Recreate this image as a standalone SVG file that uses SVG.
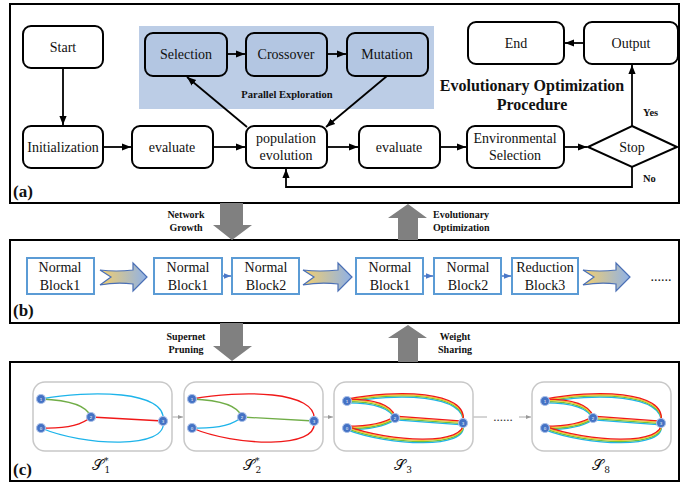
<svg xmlns="http://www.w3.org/2000/svg" xmlns:xlink="http://www.w3.org/1999/xlink" width="680" height="483" viewBox="0 0 680 483">
<defs>
<style>
.panel{fill:none;stroke:#000;stroke-width:2}
.nd{fill:#fff;stroke:#000;stroke-width:2}
.nb{fill:#b3c6e2;stroke:#000;stroke-width:2}
.t{font-family:"Liberation Serif","Times New Roman",serif;font-size:14px;fill:#111;text-anchor:middle}
.b{font-family:"Liberation Serif","Times New Roman",serif;font-weight:bold;fill:#111}
.ln{fill:none;stroke:#000;stroke-width:1.8}
.blk{fill:#fff;stroke:#5b9bd5;stroke-width:2}
.bl{fill:none;stroke:#4a78c8;stroke-width:1.5}
.ga{fill:#808080}
.fa{fill:url(#grad);stroke:#4a6fb5;stroke-width:1.2}
.cell{fill:#fff;stroke:#c8c8c8;stroke-width:1.5}
.gl{fill:none;stroke:#aaa;stroke-width:1}
.e{fill:none;stroke-width:1.3}
.n{fill:#4472c4;stroke:#a9bfe8;stroke-width:1.2}
.nt{font-family:"DejaVu Sans",sans-serif;font-size:4px;fill:#fff;text-anchor:middle}
.sl{font-family:"DejaVu Serif","Liberation Serif",serif;font-size:15px;fill:#111;text-anchor:middle}
</style>
<marker id="ah" viewBox="0 0 10 10" refX="10" refY="5" markerWidth="9" markerHeight="9" markerUnits="userSpaceOnUse" orient="auto"><path d="M0,1 L10,5 L0,9 z" fill="#000"/></marker>
<marker id="bh" viewBox="0 0 10 10" refX="10" refY="5" markerWidth="7" markerHeight="7" markerUnits="userSpaceOnUse" orient="auto"><path d="M0,1 L10,5 L0,9 z" fill="#4a78c8"/></marker>
<marker id="gh" viewBox="0 0 10 10" refX="10" refY="5" markerWidth="5" markerHeight="5" markerUnits="userSpaceOnUse" orient="auto"><path d="M0,1 L10,5 L0,9 z" fill="#999"/></marker>
<linearGradient id="grad" x1="0" y1="0" x2="1" y2="0"><stop offset="0" stop-color="#f3cf6e"/><stop offset="1" stop-color="#8fb1e6"/></linearGradient>
<g id="bundle">
<path d="M13,19 C60,9 135,10 129,41"/>
<path d="M13,19 C40,19 57,24 61,36"/>
<path d="M13,46 C38,46 52,42 61,36"/>
<path d="M61,36 L129,41"/>
<path d="M13,46 C55,62 135,66 129,41"/>
</g>
<g id="nodes3">
<circle class="n" cx="13" cy="19" r="4.5"/><text class="nt" x="13" y="20.5">1</text>
<circle class="n" cx="13" cy="46" r="4.5"/><text class="nt" x="13" y="47.5">0</text>
<circle class="n" cx="61" cy="36" r="4.5"/><text class="nt" x="61" y="37.5">2</text>
<circle class="n" cx="129" cy="41" r="4.5"/><text class="nt" x="129" y="42.5">3</text>
</g>
</defs>

<!-- Panels -->
<rect class="panel" x="10" y="4" width="669" height="199"/>
<rect class="panel" x="10" y="240" width="669" height="83"/>
<rect class="panel" x="10" y="362" width="669" height="119"/>
<text class="b" x="13" y="197" font-size="17">(a)</text>
<text class="b" x="13" y="316" font-size="17">(b)</text>
<text class="b" x="13" y="475" font-size="17">(c)</text>

<!-- Panel a -->
<rect x="139" y="26" width="295" height="83" fill="#bccde6"/>
<text class="b" x="287" y="98" font-size="10.5" text-anchor="middle">Parallel Exploration</text>
<text class="b" x="532" y="91" font-size="16" text-anchor="middle">Evolutionary Optimization</text>
<text class="b" x="532" y="110" font-size="16" text-anchor="middle">Procedure</text>

<g id="connectors">
<path class="ln" d="M63,68 V125" marker-end="url(#ah)"/>
<path class="ln" d="M103,147 H131" marker-end="url(#ah)"/>
<path class="ln" d="M213,147 H245" marker-end="url(#ah)"/>
<path class="ln" d="M327,147 H358" marker-end="url(#ah)"/>
<path class="ln" d="M440,147 H466" marker-end="url(#ah)"/>
<path class="ln" d="M564,147 H587" marker-end="url(#ah)"/>
<path class="ln" d="M632,126 V65" marker-end="url(#ah)"/>
<path class="ln" d="M584,43 H565" marker-end="url(#ah)"/>
<path class="ln" d="M632,167 V187 H286 V169" marker-end="url(#ah)"/>
<path class="ln" d="M227,54 H245" marker-end="url(#ah)"/>
<path class="ln" d="M327,54 H346" marker-end="url(#ah)"/>
<path class="ln" d="M247,127 L187,77" marker-end="url(#ah)"/>
<path class="ln" d="M387,76 L326,127" marker-end="url(#ah)"/>
<path class="bl" d="M222,276 H231" marker-end="url(#bh)"/>
<path class="bl" d="M423,276 H433" marker-end="url(#bh)"/>
<path class="bl" d="M501,276 H511" marker-end="url(#bh)"/>
<path class="gl" d="M172,417 H183" marker-end="url(#gh)"/>
<path class="gl" d="M323,417 H333" marker-end="url(#gh)"/>
<path class="gl" d="M473,417 H487"/>
<path class="gl" d="M519,417 H531" marker-end="url(#gh)"/>
</g>
<text class="b" x="643" y="116" font-size="10.5">Yes</text>
<text class="b" x="643" y="182" font-size="10.5">No</text>

<g id="start"><rect class="nd" x="23" y="26" width="80" height="42" rx="8"/><text class="t" x="63" y="52">Start</text></g>
<g id="init"><rect class="nd" x="23" y="126" width="80" height="42" rx="8"/><text class="t" x="63" y="152">Initialization</text></g>
<g id="eval1"><rect class="nd" x="132" y="126" width="81" height="42" rx="8"/><text class="t" x="172" y="152">evaluate</text></g>
<g id="popevo"><rect class="nd" x="246" y="126" width="81" height="42" rx="8"/><text class="t" x="286" y="143">population</text><text class="t" x="286" y="160">evolution</text></g>
<g id="eval2"><rect class="nd" x="359" y="126" width="81" height="42" rx="8"/><text class="t" x="399" y="152">evaluate</text></g>
<g id="envsel"><rect class="nd" x="467" y="126" width="97" height="42" rx="8"/><text class="t" x="515" y="143">Environmental</text><text class="t" x="515" y="160">Selection</text></g>
<g id="stop"><path class="nd" d="M632,126 L677,147 L632,167 L588,147 Z"/><text class="t" x="632" y="152">Stop</text></g>
<g id="output"><rect class="nd" x="584" y="22" width="94" height="42" rx="8"/><text class="t" x="631" y="48">Output</text></g>
<g id="end"><rect class="nd" x="468" y="22" width="96" height="42" rx="8"/><text class="t" x="516" y="48">End</text></g>
<g id="selection"><rect class="nb" x="145" y="33" width="82" height="43" rx="8"/><text class="t" x="186" y="59">Selection</text></g>
<g id="crossover"><rect class="nb" x="246" y="33" width="81" height="43" rx="8"/><text class="t" x="286" y="59">Crossover</text></g>
<g id="mutation"><rect class="nb" x="347" y="33" width="81" height="43" rx="8"/><text class="t" x="387" y="59">Mutation</text></g>

<!-- Between-panel arrows -->
<g id="growth"><path class="ga" d="M220,203 H243 V225 H252 L232,240 L213,225 H220 Z"/>
<text class="b" x="186" y="218" font-size="10" text-anchor="middle">Network</text><text class="b" x="186" y="231" font-size="10" text-anchor="middle">Growth</text></g>
<g id="evoopt"><path class="ga" d="M398,240 V218 H388 L408,204 L427,218 H418 V240 Z"/>
<text class="b" x="433" y="218" font-size="10">Evolutionary</text><text class="b" x="433" y="231" font-size="10">Optimization</text></g>
<g id="pruning"><path class="ga" d="M220,323 H243 V346 H252 L232,361 L213,346 H220 Z"/>
<text class="b" x="186" y="340" font-size="10" text-anchor="middle">Supernet</text><text class="b" x="186" y="353" font-size="10" text-anchor="middle">Pruning</text></g>
<g id="sharing"><path class="ga" d="M398,362 V338 H388 L408,325 L427,338 H418 V362 Z"/>
<text class="b" x="455" y="340" font-size="10" text-anchor="middle">Weight</text><text class="b" x="455" y="353" font-size="10" text-anchor="middle">Sharing</text></g>

<!-- Panel b -->
<g id="b1"><rect class="blk" x="27" y="258" width="67" height="36"/><text class="t" x="60" y="272">Normal</text><text class="t" x="60" y="290">Block1</text></g>
<path class="fa" d="M100,270 Q116,272 133,270 L133,263 L147,277 L133,291 L133,284 Q116,282 100,285 L111,277 Z"/>
<g id="b2"><rect class="blk" x="154" y="258" width="68" height="36"/><text class="t" x="188" y="272">Normal</text><text class="t" x="188" y="290">Block1</text></g>
<g id="b3"><rect class="blk" x="232" y="258" width="67" height="36"/><text class="t" x="266" y="272">Normal</text><text class="t" x="266" y="290">Block2</text></g>
<path class="fa" d="M303,270 Q320,272 338,270 L338,263 L352,277 L338,291 L338,284 Q320,282 303,285 L314,277 Z"/>
<g id="b4"><rect class="blk" x="356" y="258" width="67" height="36"/><text class="t" x="390" y="272">Normal</text><text class="t" x="390" y="290">Block1</text></g>
<g id="b5"><rect class="blk" x="434" y="258" width="67" height="36"/><text class="t" x="468" y="272">Normal</text><text class="t" x="468" y="290">Block2</text></g>
<g id="b6"><rect class="blk" x="512" y="258" width="66" height="36"/><text class="t" x="545" y="272">Reduction</text><text class="t" x="545" y="290">Block3</text></g>
<path class="fa" d="M583,270 Q600,272 616,270 L616,263 L630,277 L616,291 L616,284 Q600,282 583,285 L594,277 Z"/>
<text class="t" x="661" y="281">......</text>

<!-- Panel c -->
<g id="s1" transform="translate(33,382)">
<rect class="cell" x="0" y="0" width="139" height="69" rx="12"/>
<path class="e" stroke="#1eb4ea" d="M8,17 C55,8 135,8 130,39"/>
<path class="e" stroke="#70ad47" d="M8,17 C35,18 54,23 58,35"/>
<path class="e" stroke="#f01818" d="M8,46 C35,47 50,42 58,35"/>
<path class="e" stroke="#f01818" d="M58,35 L130,39"/>
<path class="e" stroke="#1eb4ea" d="M8,46 C50,64 136,68 130,39"/>
<circle class="n" cx="8" cy="17" r="4.5"/><text class="nt" x="8" y="18.5">1</text>
<circle class="n" cx="8" cy="46" r="4.5"/><text class="nt" x="8" y="47.5">0</text>
<circle class="n" cx="58" cy="35" r="4.5"/><text class="nt" x="58" y="36.5">2</text>
<circle class="n" cx="130" cy="39" r="4.5"/><text class="nt" x="130" y="40.5">3</text>
</g>
<g id="s2" transform="translate(184,382)">
<rect class="cell" x="0" y="0" width="139" height="69" rx="12"/>
<path class="e" stroke="#f01818" d="M8,17 C55,8 135,8 130,39"/>
<path class="e" stroke="#70ad47" d="M8,17 C35,18 54,23 58,35"/>
<path class="e" stroke="#1eb4ea" d="M8,46 C35,47 50,42 58,35"/>
<path class="e" stroke="#70ad47" d="M58,35 L130,39"/>
<path class="e" stroke="#f01818" d="M8,46 C50,64 136,68 130,39"/>
<circle class="n" cx="8" cy="17" r="4.5"/><text class="nt" x="8" y="18.5">1</text>
<circle class="n" cx="8" cy="46" r="4.5"/><text class="nt" x="8" y="47.5">0</text>
<circle class="n" cx="58" cy="35" r="4.5"/><text class="nt" x="58" y="36.5">2</text>
<circle class="n" cx="130" cy="39" r="4.5"/><text class="nt" x="130" y="40.5">3</text>
</g>
<g id="s3" transform="translate(334,382)">
<rect class="cell" x="0" y="0" width="139" height="69" rx="12"/>
<use href="#bundle" class="e" stroke="#1eb4ea" transform="translate(0,1.8)"/>
<use href="#bundle" class="e" stroke="#70c040" transform="translate(0,0.6)"/>
<use href="#bundle" class="e" stroke="#f0c830" transform="translate(0,-0.6)"/>
<use href="#bundle" class="e" stroke="#f01818" transform="translate(0,-1.8)"/>
<use href="#nodes3"/>
</g>
<g id="s8" transform="translate(532,382)">
<rect class="cell" x="0" y="0" width="139" height="69" rx="12"/>
<use href="#bundle" class="e" stroke="#1eb4ea" transform="translate(0,1.8)"/>
<use href="#bundle" class="e" stroke="#70c040" transform="translate(0,0.6)"/>
<use href="#bundle" class="e" stroke="#f0c830" transform="translate(0,-0.6)"/>
<use href="#bundle" class="e" stroke="#f01818" transform="translate(0,-1.8)"/>
<use href="#nodes3"/>
</g>
<text x="503" y="421" font-family="Liberation Serif,serif" font-size="13" fill="#333" text-anchor="middle">......</text>
<text class="sl" x="101" y="470">𝒮<tspan font-size="9" dy="-6">*</tspan><tspan font-size="9" dx="-4" dy="9">1</tspan></text>
<text class="sl" x="252" y="470">𝒮<tspan font-size="9" dy="-6">*</tspan><tspan font-size="9" dx="-4" dy="9">2</tspan></text>
<text class="sl" x="403" y="470">𝒮<tspan font-size="9" dy="3">3</tspan></text>
<text class="sl" x="601" y="470">𝒮<tspan font-size="9" dy="3">8</tspan></text>
</svg>
